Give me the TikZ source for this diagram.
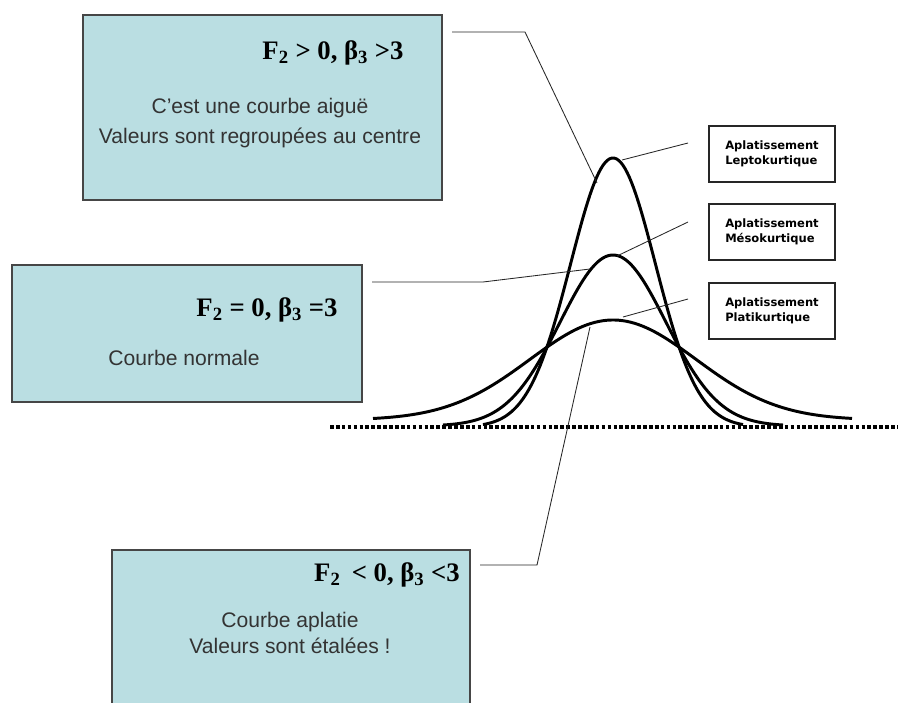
\documentclass[tikz,border=0pt]{standalone}
\usepackage{fontspec}
\setmainfont{Liberation Sans}
\newfontfamily\formfont{Liberation Serif}
\newfontfamily\kurtfont{DejaVu Sans}
\usepackage{tikz}
\definecolor{boxblue}{RGB}{186,222,226}
\definecolor{boxline}{RGB}{70,70,70}

\begin{document}
\begin{tikzpicture}[
    x=0.025cm, y=-0.025cm,
    infobox/.style={draw=boxline, fill=boxblue, line width=1.1pt, inner sep=0pt},
    formula/.style={font=\formfont\bfseries\fontsize{19}{23}\selectfont, inner sep=0pt},
    remark/.style={font=\fontsize{15}{21.3}\selectfont, align=center, text=black!80, inner sep=0pt},
    kurtbox/.style={draw=black!85, fill=white, line width=0.8pt, minimum width=3.15cm, minimum height=1.4cm,
        align=left, font=\kurtfont\bfseries\fontsize{8.2}{10.5}\selectfont, inner sep=0pt},
    curve/.style={line width=2.1pt, line join=round},
    connector/.style={line width=0.6pt, black!85},
    axis/.style={line width=2.8pt, dash pattern=on 2.6pt off 1.6pt}
]
    \fill[white] (0,0) rectangle (898,702);
    \clip (0,0) rectangle (898,702);

    % boxes on the left
    \node[infobox, minimum width=8.975cm, minimum height=4.625cm] (lepto) at (262.5,107.5) {};
    \node[infobox, minimum width=8.75cm, minimum height=3.425cm] (meso) at (187,333.5) {};
    \node[infobox, minimum width=8.95cm, minimum height=4.25cm] (plati) at (291,635) {};

    \node[formula] (leptof) at (333,53) {F\textsubscript{2} > 0, β\textsubscript{3} >3};
    \node[remark] (leptor) at (260,123) {C'est une courbe aiguë\\Valeurs sont regroupées au centre};
    \node[formula] (mesof) at (267,310) {F\textsubscript{2} = 0, β\textsubscript{3} =3};
    \node[remark] (mesor) at (184,358) {Courbe normale};
    \node[formula] (platif) at (387,575) {F\textsubscript{2} \,< 0, β\textsubscript{3} <3};
    \node[remark, font=\fontsize{15}{18}\selectfont] (platir) at (290,633) {Courbe aplatie\\Valeurs sont étalées !};

    % labels on the right
    \node[kurtbox] (leptok) at (772,154) {Aplatissement\\Leptokurtique};
    \node[kurtbox] (mesok) at (772,232) {Aplatissement\\Mésokurtique};
    \node[kurtbox] (platik) at (772,311) {Aplatissement\\Platikurtique};

    % curves
    \draw[axis] (330,427) -- (898,427);
    \draw[curve] plot[domain=373:852, samples=120] (\x, {420-100*exp(-0.5*((\x-613)/83)^2)});
    \draw[curve] plot[domain=443:783, samples=120] (\x, {426-171*exp(-0.5*((\x-613)/53)^2)});
    \draw[curve] plot[domain=483:743, samples=120] (\x, {427-269*exp(-0.5*((\x-613)/42.4)^2)});

    % connectors
    \coordinate (c1) at (452,32);
    \coordinate (k1) at (525,32);
    \coordinate (t1) at (597,183);
    \coordinate (c2) at (372,282);
    \coordinate (k2) at (483,282);
    \coordinate (t2) at (590,269);
    \coordinate (c3) at (480,565);
    \coordinate (k3) at (537,565);
    \coordinate (t3) at (590,327);
    \coordinate (l1) at (688,143);
    \coordinate (p1) at (622,160);
    \coordinate (l2) at (688,222);
    \coordinate (p2) at (617,256);
    \coordinate (l3) at (688,299);
    \coordinate (p3) at (623,317);
    \draw[connector] (c1) -- (k1) -- (t1);
    \draw[connector] (c2) -- (k2) -- (t2);
    \draw[connector] (c3) -- (k3) -- (t3);
    \draw[connector] (l1) -- (p1);
    \draw[connector] (l2) -- (p2);
    \draw[connector] (l3) -- (p3);
\end{tikzpicture}
\end{document}
